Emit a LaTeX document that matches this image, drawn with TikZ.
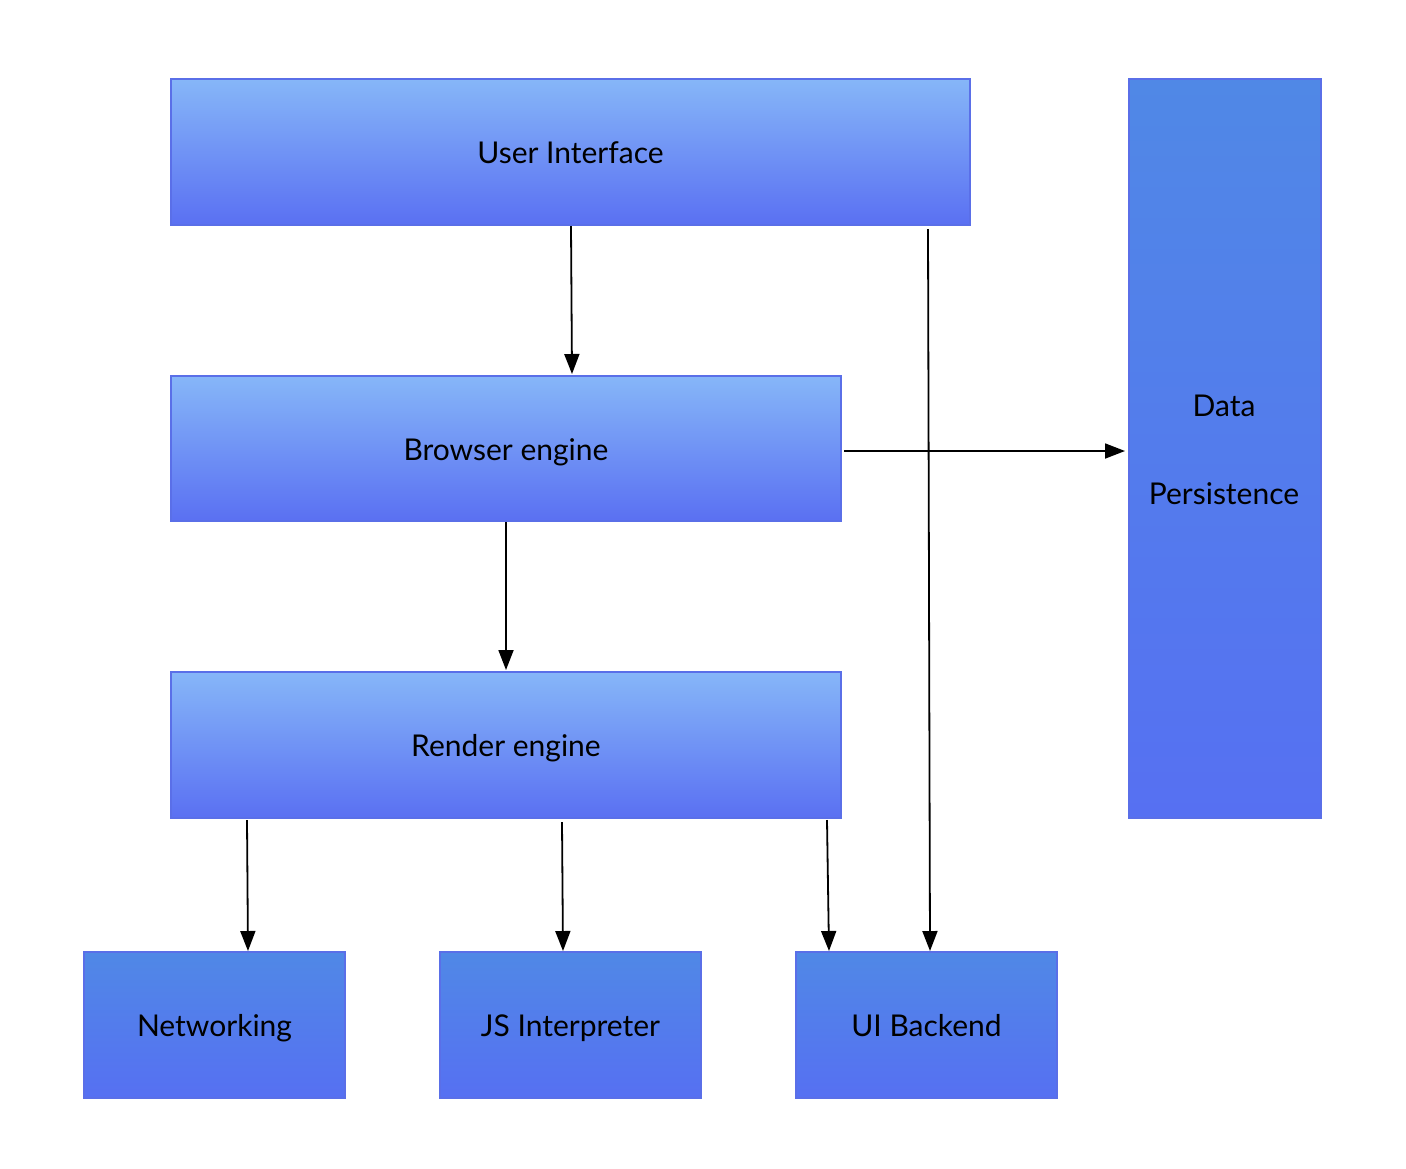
\documentclass[tikz,border=0pt]{standalone}
\usepackage{fontspec}
\setmainfont{Lato}
\usetikzlibrary{arrows.meta}
\definecolor{ltop}{HTML}{86B6F8}
\definecolor{lbot}{HTML}{5A70F2}
\definecolor{dtop}{HTML}{5088E6}
\definecolor{dbot}{HTML}{5670F2}
\definecolor{edge}{HTML}{5A6FE8}
\tikzset{txt/.style={font=\fontsize{30}{36}\selectfont,text height=27pt,text depth=4pt}}
\begin{document}
\begin{tikzpicture}[x=1pt,y=-1pt,
  lightbox/.style={draw=edge,line width=1.2pt,top color=ltop,bottom color=lbot,inner sep=0pt,txt},
  darkbox/.style={draw=edge,line width=1.2pt,top color=dtop,bottom color=dbot,inner sep=0pt,txt},
  conn/.style={line width=1.8pt,-{Triangle[length=20pt,width=15pt]}}]
\useasboundingbox (0,0) rectangle (1406,1168);
\fill[white] (0,0) rectangle (1406,1168);
\node[lightbox,minimum width=799pt,minimum height=146pt] (ui) at (570.5,152) {User Interface};
\node[lightbox,minimum width=670pt,minimum height=145pt] (be) at (506,448.5) {Browser engine};
\node[lightbox,minimum width=670pt,minimum height=146pt] (re) at (506,745) {Render engine};
\node[darkbox,minimum width=192pt,minimum height=739pt] (dp) at (1225,448.5) {};
\node[txt,inner sep=0pt] (dpt1) at (1224,405) {Data};
\node[txt,inner sep=0pt] (dpt2) at (1224,493) {Persistence};
\node[darkbox,minimum width=261pt,minimum height=146pt] (net) at (214.5,1025) {Networking};
\node[darkbox,minimum width=261pt,minimum height=146pt] (js) at (570.5,1025) {JS Interpreter};
\node[darkbox,minimum width=261pt,minimum height=146pt] (uib) at (926.5,1025) {UI Backend};
\coordinate (ua) at (571,226);
\coordinate (ub) at (928,229);
\coordinate (ba) at (506,522);
\coordinate (bb) at (844,451);
\coordinate (ra) at (247,820);
\coordinate (rb) at (562,822);
\coordinate (rc) at (827,820);
\draw[conn] (ua) -- (572,374);
\draw[conn] (ba) -- (506,670);
\draw[conn] (bb) -- (1125,451);
\draw[conn] (ub) -- (930,951);
\draw[conn] (ra) -- (248,951);
\draw[conn] (rb) -- (563,951);
\draw[conn] (rc) -- (829,951);
\end{tikzpicture}
\end{document}
